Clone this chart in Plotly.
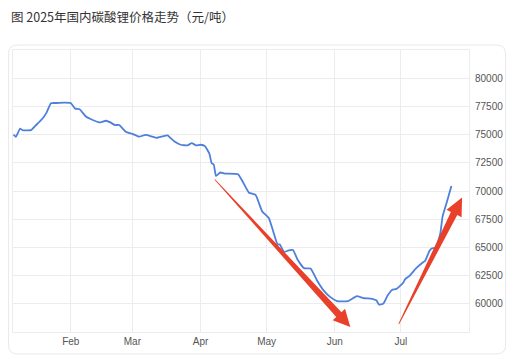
import plotly.graph_objects as go

# ---- data ----
dates = [
    "2025-01-06", "2025-01-07", "2025-01-09", "2025-01-10", "2025-01-14", "2025-01-16",
    "2025-01-19", "2025-01-21", "2025-01-23", "2025-01-25", "2025-01-29", "2025-02-01",
    "2025-02-03", "2025-02-05", "2025-02-08", "2025-02-10", "2025-02-14", "2025-02-17",
    "2025-02-19", "2025-02-21", "2025-02-23", "2025-02-26", "2025-03-01", "2025-03-04",
    "2025-03-07", "2025-03-10", "2025-03-12", "2025-03-17", "2025-03-18", "2025-03-20",
    "2025-03-23", "2025-03-26", "2025-03-28", "2025-03-30", "2025-04-01", "2025-04-03",
    "2025-04-05", "2025-04-06", "2025-04-07", "2025-04-08", "2025-04-10", "2025-04-12",
    "2025-04-18", "2025-04-20", "2025-04-23", "2025-04-26", "2025-04-29", "2025-05-02",
    "2025-05-04", "2025-05-06", "2025-05-07", "2025-05-09", "2025-05-11", "2025-05-13",
    "2025-05-15", "2025-05-18", "2025-05-21", "2025-05-24", "2025-05-27", "2025-05-30",
    "2025-06-02", "2025-06-07", "2025-06-11", "2025-06-14", "2025-06-18", "2025-06-20",
    "2025-06-21", "2025-06-23", "2025-06-25", "2025-06-27", "2025-06-29", "2025-07-02",
    "2025-07-03", "2025-07-05", "2025-07-08", "2025-07-11", "2025-07-12", "2025-07-14",
    "2025-07-15", "2025-07-17", "2025-07-19", "2025-07-20", "2025-07-22", "2025-07-24",
]
prices = [
    75000, 74800, 75530, 75400, 75400, 75800,
    76380, 76950, 77780, 77800, 77830, 77800,
    77300, 77250, 76580, 76380, 76080, 76230,
    76080, 75850, 75850, 75260, 75060, 74820,
    74970, 74820, 74710, 74940, 74760, 74410,
    74100, 74040, 74240, 74040, 74100, 73980,
    73310, 72490, 72340, 71340, 71640, 71550,
    71490, 70880, 69850, 69650, 68190, 67610,
    66430, 65260, 65260, 64590, 64740, 64770,
    63950, 63160, 63130, 62050, 61170, 60590,
    60240, 60240, 60680, 60500, 60440, 60290,
    59940, 60000, 60730, 61230, 61320, 61840,
    62190, 62480, 63160, 63660, 63800, 64680,
    64910, 64970, 66290, 67750, 69060, 70440,
]
month_ticks = ["2025-02-01", "2025-03-01", "2025-04-01", "2025-05-01", "2025-06-01", "2025-07-01"]
month_labels = ["Feb", "Mar", "Apr", "May", "Jun", "Jul"]
y_ticks = [60000, 62500, 65000, 67500, 70000, 72500, 75000, 77500, 80000]
y_labels = [str(v) for v in y_ticks]
title_text = "图 2025年国内碳酸锂价格走势（元/吨）"

# ---- layout geometry ----
W, H = 515, 359
ML, MR, MT, MB = 12, 42, 50, 26
PW, PH = W - ML - MR, H - MT - MB


def px(x, y):
    """pixel -> paper coords (for decorations only)"""
    return (x - ML) / PW, (H - MB - y) / PH


def path_from(points, close=True):
    s = ""
    for i, (x, y) in enumerate(points):
        a, b = px(x, y)
        s += ("M" if i == 0 else "L") + f"{a:.5f},{b:.5f} "
    return s + ("Z" if close else "")


def arrow_poly(tail, tip, w_tail, w_shaft, w_head, head_len):
    import math
    dx, dy = tip[0] - tail[0], tip[1] - tail[1]
    L = math.hypot(dx, dy)
    ux, uy = dx / L, dy / L
    nx, ny = -uy, ux
    bx, by = tip[0] - head_len * ux, tip[1] - head_len * uy
    return [
        (tail[0] + w_tail * nx, tail[1] + w_tail * ny),
        (bx + w_shaft * nx, by + w_shaft * ny),
        (bx + w_head * nx, by + w_head * ny),
        tip,
        (bx - w_head * nx, by - w_head * ny),
        (bx - w_shaft * nx, by - w_shaft * ny),
        (tail[0] - w_tail * nx, tail[1] - w_tail * ny),
    ]


def rounded_rect(x0, y0, x1, y1, r):
    a = lambda x, y: "{:.5f},{:.5f}".format(*px(x, y))
    s = f"M{a(x0 + r, y0)} L{a(x1 - r, y0)} Q{a(x1, y0)} {a(x1, y0 + r)} "
    s += f"L{a(x1, y1 - r)} Q{a(x1, y1)} {a(x1 - r, y1)} "
    s += f"L{a(x0 + r, y1)} Q{a(x0, y1)} {a(x0, y1 - r)} "
    s += f"L{a(x0, y0 + r)} Q{a(x0, y0)} {a(x0 + r, y0)} Z"
    return s


fig = go.Figure()
fig.add_trace(go.Scatter(
    x=dates, y=prices, mode="lines",
    line=dict(color="#4d7fdb", width=1.8, shape="spline", smoothing=0.4),
    hoverinfo="skip", showlegend=False,
))

grid = "#ececec"
RED = "#e8402a"
shapes = [
    dict(type="path", xref="paper", yref="paper", path=rounded_rect(7.5, 45, 510, 355, 9),
         line=dict(color="#e9e9e9", width=1), fillcolor="rgba(0,0,0,0)", layer="below"),
    dict(type="path", xref="paper", yref="paper",
         path=path_from(arrow_poly((216, 180), (353, 328), 0.4, 3.6, 8.5, 17)),
         line=dict(width=0), fillcolor=RED, layer="above"),
    dict(type="path", xref="paper", yref="paper",
         path=path_from(arrow_poly((402, 325), (466, 198), 0.4, 3.6, 8.5, 18)),
         line=dict(width=0), fillcolor=RED, layer="above"),
]

fig.update_layout(
    width=W, height=H,
    margin=dict(l=ML, r=MR, t=MT, b=MB, pad=0),
    paper_bgcolor="white", plot_bgcolor="white",
    shapes=shapes,
    annotations=[dict(
        text=title_text, xref="paper", yref="paper",
        x=px(8, 16)[0], y=px(8, 16)[1], xanchor="left", yanchor="middle",
        showarrow=False, font=dict(family="Noto Sans CJK SC", size=12.5, color="#333333"),
    )],
    xaxis=dict(
        type="date", range=["2025-01-05 18:00", "2025-08-01"],
        tickvals=month_ticks, ticktext=month_labels,
        showgrid=True, gridcolor=grid, gridwidth=1,
        showline=True, linecolor=grid, linewidth=1, mirror=True,
        ticks="", zeroline=False,
        tickfont=dict(family="Liberation Sans, Arial", size=10, color="#555555"),
    ),
    yaxis=dict(
        range=[57500, 82500], side="right",
        tickvals=y_ticks, ticktext=y_labels,
        showgrid=True, gridcolor=grid, gridwidth=1,
        showline=True, linecolor=grid, linewidth=1, mirror=True,
        ticks="", zeroline=False, ticklabelstandoff=3,
        tickfont=dict(family="Liberation Sans, Arial", size=10, color="#555555"),
    ),
)

fig.write_html("out.html")
